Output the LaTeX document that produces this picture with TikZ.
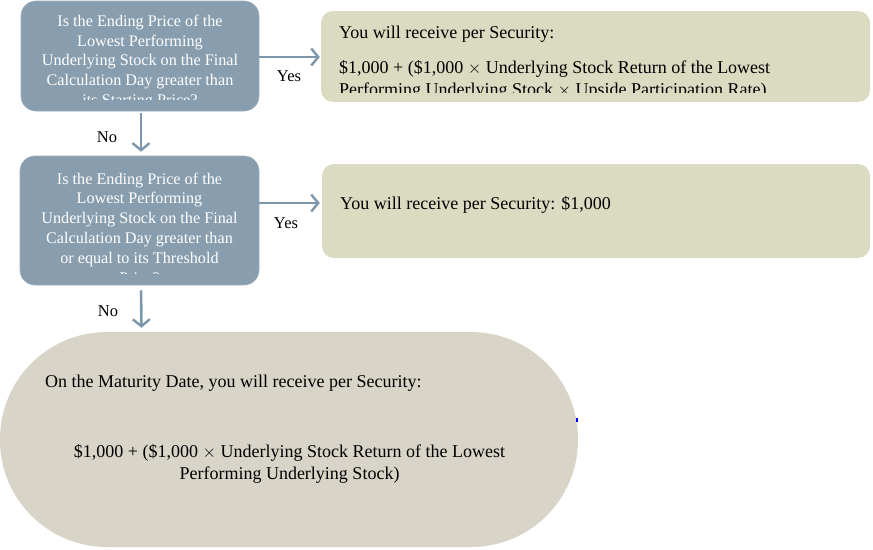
\documentclass[tikz,border=0pt]{standalone}
\usepackage{fontspec}
\setmainfont{Liberation Serif}
\usetikzlibrary{arrows.meta}
\definecolor{qblue}{RGB}{136,158,175}
\definecolor{arrc}{RGB}{124,150,171}
\definecolor{olivebg}{RGB}{218,219,192}
\definecolor{greybg}{RGB}{216,212,200}
\tikzset{
  qbox/.style={fill=qblue, draw=qblue!85!white, line width=0.6pt, rounded corners=15pt, inner sep=0pt},
  abox/.style={fill=olivebg, rounded corners=12pt, inner sep=0pt},
  qtext/.style={text=white, align=center, inner sep=0pt, font=\fontsize{16.2}{19.8}\selectfont},
  atext/.style={text=black, anchor=west, inner sep=0pt, font=\fontsize{18}{22}\selectfont},
  lbl/.style={text=black, inner sep=0pt, font=\fontsize{16.5}{19}\selectfont},
  arr/.style={draw=arrc, line width=2.6pt, -{Straight Barb[length=7pt,width=17pt,line width=2.4pt]}}
}
\begin{document}
\begin{tikzpicture}[x=1pt,y=-1pt]
\useasboundingbox (0,0) rectangle (873,549);
% shapes
\node[qbox, minimum width=238pt, minimum height=110pt] (b1) at (140,56) {};
\node[abox, minimum width=549pt, minimum height=91pt] (r1) at (595.5,56.5) {};
\node[qbox, minimum width=239pt, minimum height=129pt] (b2) at (139.5,220.5) {};
\node[abox, minimum width=548pt, minimum height=94pt] (r2) at (596,211) {};
\node[fill=greybg, rounded corners=107pt, minimum width=578pt, minimum height=215pt, inner sep=0pt] (b3) at (289,439.5) {};
% texts (clipped like the reference)
\begin{scope}
\clip (21,1) rectangle (259,99.5);
\node[qtext] (t1) at (140,62) {Is the Ending Price of the\\Lowest Performing\\Underlying Stock on the Final\\Calculation Day greater than\\its Starting Price?};
\end{scope}
\begin{scope}
\clip (20,156) rectangle (259,273.5);
\node[qtext] (t2) at (139.5,228) {Is the Ending Price of the\\Lowest Performing\\Underlying Stock on the Final\\Calculation Day greater than\\or equal to its Threshold\\Price?};
\end{scope}
\node[atext] (r1a) at (339,34) {You will receive per Security:};
\begin{scope}
\clip (321,11) rectangle (870,92);
\node[atext, align=left] (r1b) at (339,80) {\$1,000 + (\$1,000 $\times$ Underlying Stock Return of the Lowest\\Performing Underlying Stock $\times$ Upside Participation Rate)};
\end{scope}
\node[atext] (r2a) at (340,205) {You will receive per Security: \$1,000};
\node[atext] (b3a) at (45,383) {On the Maturity Date, you will receive per Security:};
\node[text=black, align=center, inner sep=0pt, font=\fontsize{18}{22}\selectfont] (b3b) at (289.5,464) {\$1,000 + (\$1,000 $\times$ Underlying Stock Return of the Lowest\\Performing Underlying Stock)};
% connectors
\coordinate (y1) at (0,57);
\coordinate (y2) at (0,203);
\draw[arr, shorten >=1pt] (b1.east |- y1) -- (r1.west |- y1);
\draw[arr, shorten >=2pt] (b2.east |- y2) -- (r2.west |- y2);
\draw[arr, shorten <=2pt, shorten >=4pt] ([xshift=1pt]b1.south) -- ([xshift=1.5pt]b2.north);
\draw[arr, shorten <=5pt, shorten >=4pt] ([xshift=1.5pt]b2.south) -- ([xshift=2pt]b3.north -| b2.south);
% labels
\node[lbl] (yes1) at (289,76) {Yes};
\node[lbl] (yes2) at (286,223) {Yes};
\node[lbl] (no1) at (107,137) {No};
\node[lbl] (no2) at (108,311) {No};
% small blue mark
\fill[blue] (575.5,418) rectangle (577.5,422);
\end{tikzpicture}
\end{document}
